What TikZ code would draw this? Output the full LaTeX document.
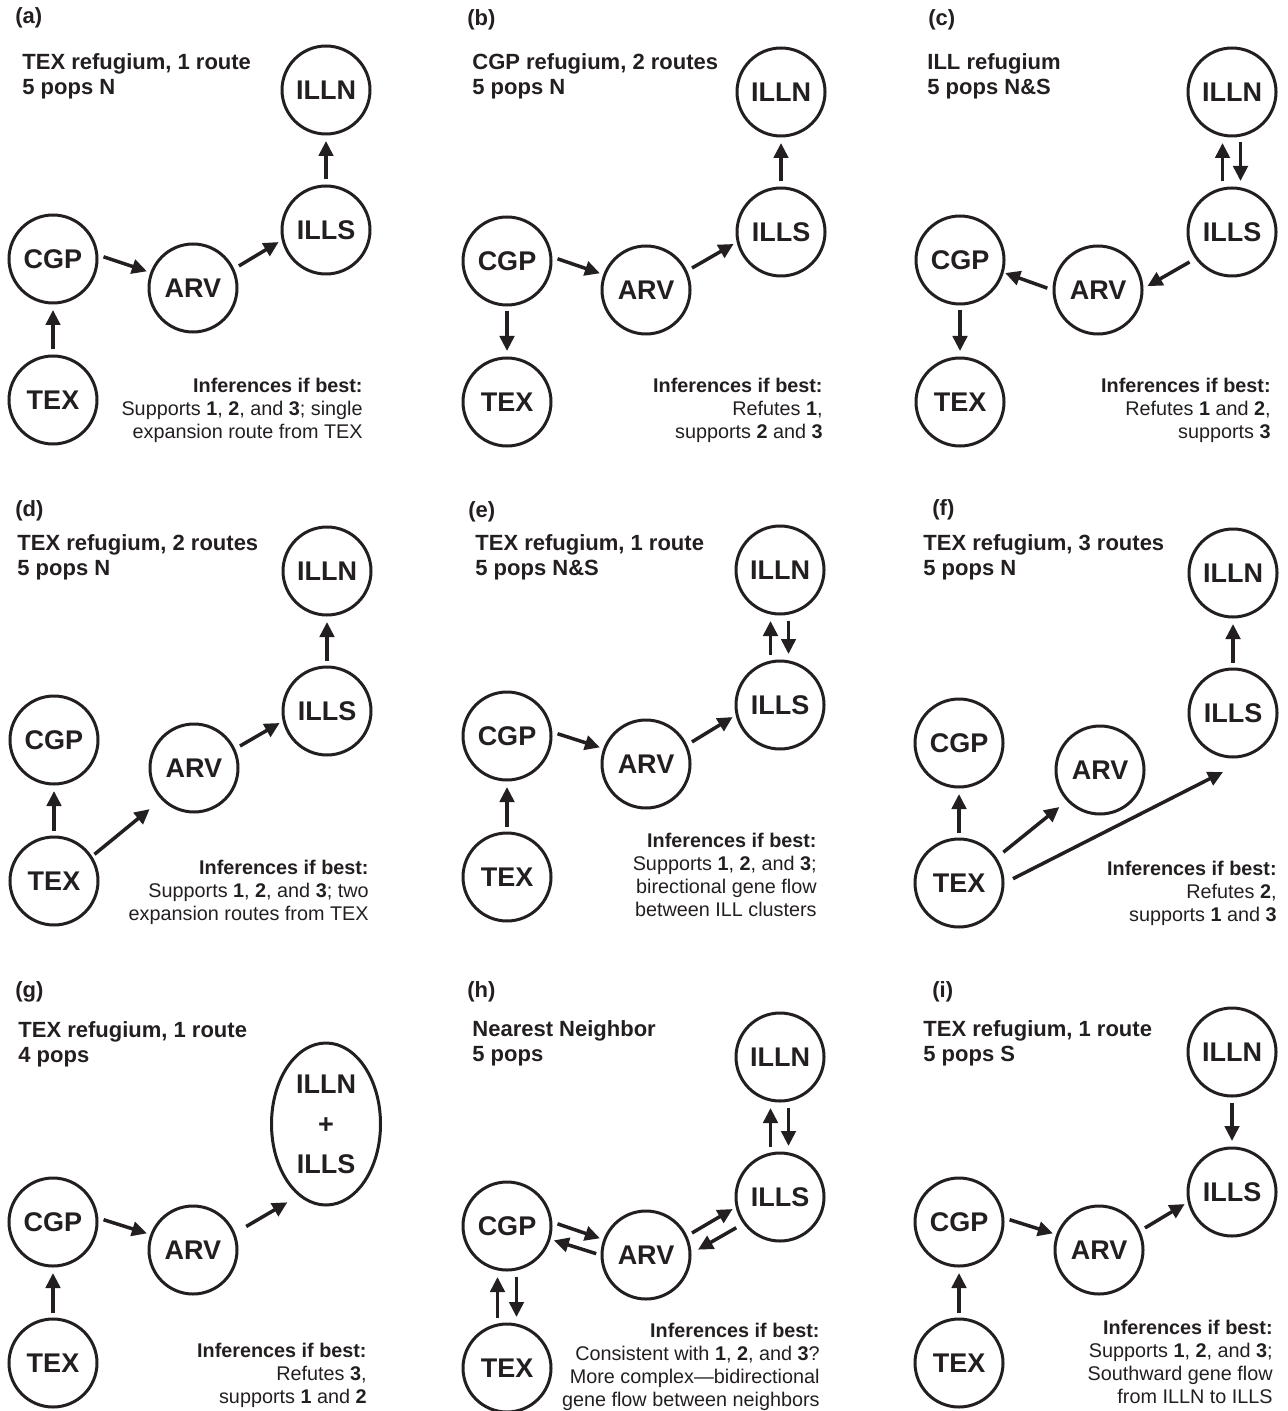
\documentclass[tikz,border=0pt]{standalone}
\usepackage{fontspec}
\setmainfont{Liberation Sans}
\usetikzlibrary{arrows.meta}
\usetikzlibrary{shapes.geometric}
\definecolor{ink}{RGB}{35,31,32}
\tikzset{
  popnode/.style={circle, draw=ink, text=ink, line width=1.5pt, minimum size=44pt, inner sep=0pt, font=\bfseries\fontsize{13.5}{16}\selectfont},
  arr/.style={draw=ink, line width=1.75pt, -{Triangle[length=7.5pt,width=7.2pt]}, shorten <=2.75pt, shorten >=1.75pt},
  vert/.style={arr, shorten <=2.5pt, shorten >=2.75pt},
  plabel/.style={anchor=west, inner sep=0pt, text=ink, font=\bfseries\fontsize{11}{13}\selectfont},
  heading/.style={anchor=north west, align=left, inner sep=0pt, text=ink, font=\bfseries\fontsize{11}{12.75}\selectfont},
  inference/.style={anchor=north east, align=right, inner sep=0pt, text=ink, font=\fontsize{9.9}{11.5}\selectfont}
}
\begin{document}
\begin{tikzpicture}[x=0.5pt, y=-0.5pt]
\useasboundingbox (0,0) rectangle (1288,1411);

%% (a)
\node[plabel] (labA) at (15,18) {(a)};
\node[heading] (headA) at (22,53) {TEX refugium, 1 route\\5 pops N};
\node[popnode] (ILLNa) at (326,90) {ILLN};
\node[popnode] (ILLSa) at (326,230) {ILLS};
\node[popnode] (CGPa) at (53,259) {CGP};
\node[popnode] (ARVa) at (193,288) {ARV};
\node[popnode] (TEXa) at (53,400) {TEX};
\node[inference] (infA) at (363,378) {\textbf{Inferences if best:}\\Supports \textbf{1}, \textbf{2}, and \textbf{3}; single\\expansion route from TEX};
\draw[vert] (TEXa.north) -- (CGPa.south);
\draw[arr] (CGPa.5) -- (ARVa.160);
\draw[arr] (ARVa.25) -- (ILLSa.193);
\draw[vert] (ILLSa.north) -- (ILLNa.south);

%% (b)
\node[plabel] (labB) at (467,20) {(b)};
\node[heading] (headB) at (472,53) {CGP refugium, 2 routes\\5 pops N};
\node[popnode] (ILLNb) at (781,92) {ILLN};
\node[popnode] (ILLSb) at (781,232) {ILLS};
\node[popnode] (CGPb) at (507,261) {CGP};
\node[popnode] (ARVb) at (646,290) {ARV};
\node[popnode] (TEXb) at (507,402) {TEX};
\node[inference] (infB) at (823,378) {\textbf{Inferences if best:}\\Refutes \textbf{1},\\supports \textbf{2} and \textbf{3}};
\draw[vert] (CGPb.south) -- (TEXb.north);
\draw[arr] (CGPb.5) -- (ARVb.160);
\draw[arr] (ARVb.25) -- (ILLSb.193);
\draw[vert] (ILLSb.north) -- (ILLNb.south);

%% (c)
\node[plabel] (labC) at (928,20) {(c)};
\node[heading] (headC) at (927,53) {ILL refugium\\5 pops N\&S};
\node[popnode] (ILLNc) at (1232,92) {ILLN};
\node[popnode] (ILLSc) at (1232,232) {ILLS};
\node[popnode] (CGPc) at (960,260) {CGP};
\node[popnode] (ARVc) at (1098,290) {ARV};
\node[popnode] (TEXc) at (960,402) {TEX};
\node[inference] (infC) at (1271,378) {\textbf{Inferences if best:}\\Refutes \textbf{1} and \textbf{2},\\supports \textbf{3}};
\draw[vert] ([xshift=-4.75pt]ILLSc.north) -- ([xshift=-4.75pt]ILLNc.south);
\draw[vert] ([xshift=4.25pt]ILLNc.south) -- ([xshift=4.25pt]ILLSc.north);
\draw[arr, shorten <=3.25pt, shorten >=2.25pt] (ILLSc.216) -- (ARVc.2);
\draw[arr, shorten <=2.75pt, shorten >=0.75pt] (ARVc.180) -- (CGPc.344);
\draw[vert] (CGPc.south) -- (TEXc.north);

%% (d)
\node[plabel] (labD) at (15,511) {(d)};
\node[heading] (headD) at (17,534) {TEX refugium, 2 routes\\5 pops N};
\node[popnode] (ILLNd) at (327,571) {ILLN};
\node[popnode] (ILLSd) at (327,711) {ILLS};
\node[popnode] (CGPd) at (54,740) {CGP};
\node[popnode] (ARVd) at (194,768) {ARV};
\node[popnode] (TEXd) at (54,881) {TEX};
\node[inference] (infD) at (369,860) {\textbf{Inferences if best:}\\Supports \textbf{1}, \textbf{2}, and \textbf{3}; two\\expansion routes from TEX};
\draw[vert] (TEXd.north) -- (CGPd.south);
\draw[arr, shorten <=1.5pt, shorten >=7.5pt] (TEXd.33) -- (ARVd.224);
\draw[arr] (ARVd.25) -- (ILLSd.193);
\draw[vert] (ILLSd.north) -- (ILLNd.south);

%% (e)
\node[plabel] (labE) at (468,512) {(e)};
\node[heading] (headE) at (475,534) {TEX refugium, 1 route\\5 pops N\&S};
\node[popnode] (ILLNe) at (780,570) {ILLN};
\node[popnode] (ILLSe) at (780,705) {ILLS};
\node[popnode] (CGPe) at (507,736) {CGP};
\node[popnode] (ARVe) at (646,764) {ARV};
\node[popnode] (TEXe) at (507,877) {TEX};
\node[inference] (infE) at (817,833) {\textbf{Inferences if best:}\\Supports \textbf{1}, \textbf{2}, and \textbf{3};\\birectional gene flow\\between ILL clusters};
\draw[vert] (TEXe.north) -- (CGPe.south);
\draw[arr] (CGPe.5) -- (ARVe.160);
\draw[arr] (ARVe.25) -- (ILLSe.193);
\draw[vert] ([xshift=-4.75pt]ILLSe.north) -- ([xshift=-4.75pt]ILLNe.south);
\draw[vert] ([xshift=4.25pt]ILLNe.south) -- ([xshift=4.25pt]ILLSe.north);

%% (f)
\node[plabel] (labF) at (932,510) {(f)};
\node[heading] (headF) at (923,534) {TEX refugium, 3 routes\\5 pops N};
\node[popnode] (ILLNf) at (1233,573) {ILLN};
\node[popnode] (ILLSf) at (1233,713) {ILLS};
\node[popnode] (CGPf) at (959,743) {CGP};
\node[popnode] (ARVf) at (1100,770) {ARV};
\node[popnode] (TEXf) at (959,883) {TEX};
\coordinate (ILLSfTip) at (1223,772);
\node[inference] (infF) at (1277,861) {\textbf{Inferences if best:}\\Refutes \textbf{2},\\supports \textbf{1} and \textbf{3}};
\draw[vert] (TEXf.north) -- (CGPf.south);
\draw[arr, shorten <=4.25pt, shorten >=4.75pt] (TEXf.34) -- (ARVf.223);
\draw[arr, shorten <=4.75pt, shorten >=0pt] (TEXf.0) -- (ILLSfTip);
\draw[vert] (ILLSf.north) -- (ILLNf.south);

%% (g)
\node[plabel] (labG) at (15,992) {(g)};
\node[heading] (headG) at (18,1021) {TEX refugium, 1 route\\4 pops};
\node[popnode, ellipse, minimum width=54.5pt, minimum height=81pt, align=center, font=\bfseries\fontsize{13.5}{20}\selectfont] (ILLg) at (326,1124) {ILLN\\+\\ILLS};
\node[popnode] (CGPg) at (53,1222) {CGP};
\node[popnode] (ARVg) at (193,1250) {ARV};
\node[popnode] (TEXg) at (53,1363) {TEX};
\node[inference] (infG) at (367,1343) {\textbf{Inferences if best:}\\Refutes \textbf{3},\\supports \textbf{1} and \textbf{2}};
\draw[vert] (TEXg.north) -- (CGPg.south);
\draw[arr] (CGPg.5) -- (ARVg.160);
\draw[arr, shorten <=6.4pt, shorten >=6.4pt] (ARVg.22) -- (ILLg.249);

%% (h)
\node[plabel] (labH) at (467,992) {(h)};
\node[heading] (headH) at (472,1020) {Nearest Neighbor\\5 pops};
\node[popnode] (ILLNh) at (780,1057) {ILLN};
\node[popnode] (ILLSh) at (780,1197) {ILLS};
\node[popnode] (CGPh) at (507,1226) {CGP};
\node[popnode] (ARVh) at (646,1255) {ARV};
\node[popnode] (TEXh) at (507,1368) {TEX};
\node[inference] (infH) at (820,1323) {\textbf{Inferences if best:}\\Consistent with \textbf{1}, \textbf{2}, and \textbf{3}?\\More complex—bidirectional\\gene flow between neighbors};
\draw[vert] ([xshift=-4.75pt]TEXh.north) -- ([xshift=-4.75pt]CGPh.south);
\draw[vert] ([xshift=4.75pt]CGPh.south) -- ([xshift=4.75pt]TEXh.north);
\draw[arr] (CGPh.5) -- (ARVh.160);
\draw[arr, shorten <=2.25pt, shorten >=1.75pt] (ARVh.180) -- (CGPh.343);
\draw[arr] (ARVh.25) -- (ILLSh.193);
\draw[arr, shorten <=4pt, shorten >=3.75pt] (ILLSh.216) -- (ARVh.2);
\draw[vert] ([xshift=-4.75pt]ILLSh.north) -- ([xshift=-4.75pt]ILLNh.south);
\draw[vert] ([xshift=4.25pt]ILLNh.south) -- ([xshift=4.25pt]ILLSh.north);

%% (i)
\node[plabel] (labI) at (932,992) {(i)};
\node[heading] (headI) at (923,1020) {TEX refugium, 1 route\\5 pops S};
\node[popnode] (ILLNi) at (1232,1052) {ILLN};
\node[popnode] (ILLSi) at (1232,1192) {ILLS};
\node[popnode] (CGPi) at (959,1222) {CGP};
\node[popnode] (ARVi) at (1099,1250) {ARV};
\node[popnode] (TEXi) at (959,1363) {TEX};
\node[inference] (infI) at (1273,1320) {\textbf{Inferences if best:}\\Supports \textbf{1}, \textbf{2}, and \textbf{3};\\Southward gene flow\\from ILLN to ILLS};
\draw[vert] (TEXi.north) -- (CGPi.south);
\draw[arr] (CGPi.5) -- (ARVi.160);
\draw[arr] (ARVi.25) -- (ILLSi.193);
\draw[vert] (ILLNi.south) -- (ILLSi.north);
\end{tikzpicture}
\end{document}
